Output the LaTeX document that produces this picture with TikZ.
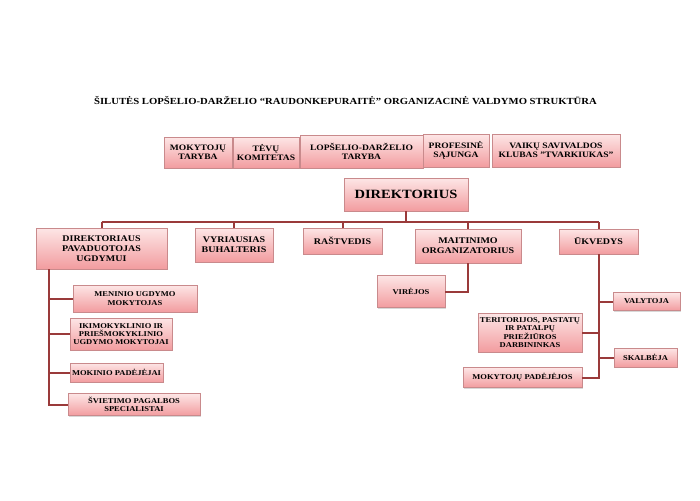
\documentclass[tikz,border=0pt]{standalone}
\usepackage{fontspec}
\setmainfont{Liberation Serif}[FakeStretch=1.15]
\usetikzlibrary{shadows}
\definecolor{boxtop}{HTML}{FDE6E6}
\definecolor{boxbot}{HTML}{F29C9F}
\definecolor{boxline}{HTML}{C98A8C}
\definecolor{connc}{HTML}{9A3A3A}
\tikzset{
  box/.style={rectangle, draw=boxline, line width=0.6pt, top color=boxtop, bottom color=boxbot,
    align=center, inner sep=1pt, font=\bfseries, text=black,
    drop shadow={shadow xshift=1.2pt, shadow yshift=-1.2pt, opacity=0.3}},
  fA/.style={font=\fontsize{8.3}{9.4}\selectfont\bfseries},
  fB/.style={font=\fontsize{8.7}{10.2}\selectfont\bfseries},
  fC/.style={font=\fontsize{7.4}{8.4}\selectfont\bfseries},
  fD/.style={font=\fontsize{12.6}{13}\selectfont\bfseries},
  conn/.style={draw=connc, line width=2pt},
}
\begin{document}
\begin{tikzpicture}[x=1pt,y=-1pt]
\useasboundingbox[fill=white] (0,0) rectangle (700,500);
\node[font=\fontsize{9.3}{11}\selectfont\bfseries] (title) at (345.5,101) {ŠILUTĖS LOPŠELIO-DARŽELIO “RAUDONKEPURAITĖ” ORGANIZACINĖ VALDYMO STRUKTŪRA};
% top row
\node[box,fA,minimum width=68,minimum height=31] (mt) at (198,152.5) {MOKYTOJŲ\\TARYBA};
\node[box,fA,minimum width=66,minimum height=31] (tk) at (266,152.5) {TĖVŲ\\KOMITETAS};
\node[box,fA,minimum width=123,minimum height=33] (ldt) at (361.5,151.5) {LOPŠELIO-DARŽELIO\\TARYBA};
\node[box,fA,minimum width=66,minimum height=33] (ps) at (456,150.5) {PROFESINĖ\\SĄJUNGA};
\node[box,fA,minimum width=128,minimum height=33] (vs) at (556,150.5) {VAIKŲ SAVIVALDOS\\KLUBAS "TVARKIUKAS"};
% director
\node[box,fD,minimum width=124,minimum height=33] (dir) at (406,194.5) {DIREKTORIUS};
\coordinate (bus) at (406,222);
% second row
\node[box,fB,minimum width=131,minimum height=41] (dpu) at (101.5,248.5) {DIREKTORIAUS\\PAVADUOTOJAS\\UGDYMUI};
\node[box,fB,minimum width=78,minimum height=34] (vb) at (234,245) {VYRIAUSIAS\\BUHALTERIS};
\node[box,fB,minimum width=79,minimum height=26] (rs) at (342.5,241) {RAŠTVEDIS};
\node[box,fB,minimum width=106,minimum height=34] (mo) at (468,246) {MAITINIMO\\ORGANIZATORIUS};
\node[box,fB,minimum width=79,minimum height=25] (uk) at (598.5,241.5) {ŪKVEDYS};
% left column
\node[box,fC,minimum width=124,minimum height=27] (mu) at (135,298.5) {MENINIO UGDYMO\\MOKYTOJAS};
\node[box,fC,minimum width=102,minimum height=32] (ik) at (121,334) {IKIMOKYKLINIO IR\\PRIEŠMOKYKLINIO\\UGDYMO MOKYTOJAI};
\node[box,fC,minimum width=93,minimum height=19] (mp) at (116.5,372.5) {MOKINIO PADĖJĖJAI};
\node[box,fC,minimum width=132,minimum height=22] (sp) at (134,404.5) {ŠVIETIMO PAGALBOS\\SPECIALISTAI};
\coordinate (lv) at (49,404.5);
% middle
\node[box,fC,minimum width=68,minimum height=32] (vir) at (411,291.5) {VIRĖJOS};
% right column
\node[box,fC,minimum width=67,minimum height=18] (val) at (646.5,301.5) {VALYTOJA};
\node[box,fC,minimum width=104,minimum height=39] (ter) at (530,332.5) {TERITORIJOS, PASTATŲ\\IR PATALPŲ\\PRIEŽIŪROS\\DARBININKAS};
\node[box,fC,minimum width=63,minimum height=19] (sk) at (645.5,357.5) {SKALBĖJA};
\node[box,fC,minimum width=119,minimum height=20] (mp2) at (522.5,377.5) {MOKYTOJŲ PADĖJĖJOS};
% connectors
\draw[conn] (dir.south) -- (bus);
\draw[conn] (dpu.north |- bus) -- (uk.north |- bus);
\foreach \n in {dpu,vb,rs,mo,uk} \draw[conn] (\n.north) -- (\n.north |- bus);
\draw[conn] (lv |- dpu.south) -- (lv) -- (sp.west);
\foreach \n in {mu,ik,mp} \draw[conn] (\n.west) -- (\n.west -| lv);
\draw[conn] (mo.south) |- (vir.east);
\draw[conn] (uk.south) |- (mp2.east);
\foreach \n in {val,sk} \draw[conn] (\n.west) -- (\n.west -| uk.south);
\draw[conn] (ter.east) -- (ter.east -| uk.south);
\end{tikzpicture}
\end{document}
